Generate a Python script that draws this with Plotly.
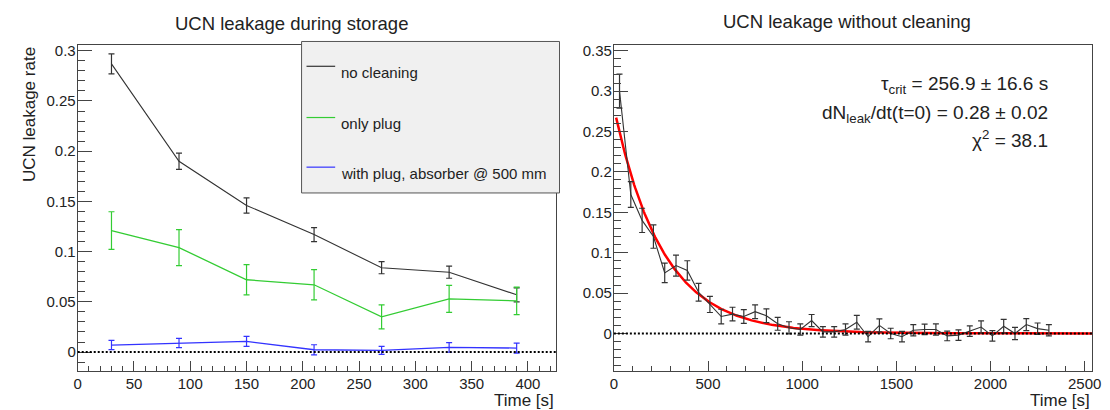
import numpy as np
import plotly.graph_objects as go

W, H = 1110, 410

# ---------------- data: left panel ----------------
t_left = [30, 90, 150, 210, 270, 330, 390]
no_clean = [0.287, 0.190, 0.146, 0.117, 0.084, 0.0795, 0.057]
no_clean_err = [0.010, 0.008, 0.0076, 0.007, 0.006, 0.006, 0.007]
only_plug = [0.121, 0.104, 0.072, 0.067, 0.035, 0.053, 0.051]
only_plug_err = [0.0187, 0.018, 0.015, 0.015, 0.012, 0.0135, 0.0137]
with_abs = [0.007, 0.009, 0.0106, 0.0023, 0.0017, 0.0046, 0.004]
with_abs_err = [0.0046, 0.0046, 0.005, 0.005, 0.004, 0.0048, 0.005]
legend_labels = ["no cleaning", "only plug", "with plug, absorber @ 500 mm"]

# ---------------- data: right panel ----------------
t_right = [30, 90, 150, 210, 270, 330, 390, 450, 510, 570, 630, 690, 750, 810,
           870, 930, 990, 1050, 1110, 1170, 1230, 1290, 1350, 1410, 1470, 1530,
           1590, 1650, 1710, 1770, 1830, 1890, 1950, 2010, 2070, 2130, 2190,
           2250, 2310]
leak = [0.300, 0.172, 0.140, 0.120, 0.075, 0.084, 0.078, 0.051, 0.036, 0.021,
        0.024, 0.021, 0.027, 0.022, 0.012, 0.007, 0.005, 0.016, 0.002, 0.002,
        0.005, 0.014, -0.004, 0.010, 0.000, -0.004, 0.004, 0.005, 0.005,
        -0.003, -0.002, 0.003, 0.008, -0.003, 0.009, 0.000, 0.011, 0.006,
        0.004]
leak_err = [0.021, 0.016, 0.015, 0.0145, 0.012, 0.013, 0.012, 0.011, 0.010,
            0.009, 0.0085, 0.0085, 0.0085, 0.0085, 0.008, 0.0075, 0.007,
            0.0075, 0.0065, 0.0065, 0.007, 0.0085, 0.0065, 0.008, 0.0065,
            0.0065, 0.007, 0.0065, 0.007, 0.006, 0.0065, 0.0065, 0.0075,
            0.0065, 0.0085, 0.0075, 0.0075, 0.007, 0.007]

# fit parameters (as printed on the chart)
FIT_TAU = 256.9
FIT_A = 0.28
FIT_START, FIT_END = 12, 2540

FONT = "Liberation Sans"
TXT = "#222222"
FRAME = "#444444"

fig = go.Figure()

def add_series(x, y, e, color, lw, xa, ya, cap):
    fig.add_trace(go.Scatter(
        x=x, y=y, mode="lines", xaxis=xa, yaxis=ya,
        line=dict(color=color, width=lw),
        error_y=dict(type="data", array=e, visible=True, color=color,
                     thickness=1.2, width=cap),
        showlegend=False, hoverinfo="skip"))

add_series(t_left, no_clean, no_clean_err, "#333333", 1.1, "x", "y", 3)
add_series(t_left, only_plug, only_plug_err, "#33cc33", 1.3, "x", "y", 3)
add_series(t_left, with_abs, with_abs_err, "#3333ff", 1.3, "x", "y", 3)

fit_t = np.linspace(FIT_START, FIT_END, 500)
fit_y = FIT_A * np.exp(-fit_t / FIT_TAU)
fig.add_trace(go.Scatter(x=fit_t, y=fit_y, mode="lines", xaxis="x2", yaxis="y2",
                         line=dict(color="#ff0000", width=2.5),
                         showlegend=False, hoverinfo="skip"))
add_series(t_right, leak, leak_err, "#333333", 1.1, "x2", "y2", 3)

ytop, ybot = 34.3, 362.3
ydom = [(H - ybot) / H, (H - ytop) / H]

def axis(dom, rng, dtick, mdtick, tlen, mlen, anchor, standoff):
    return dict(domain=dom, range=rng, anchor=anchor, showline=True, mirror=True,
                linecolor=FRAME, linewidth=1, ticks="inside", ticklen=tlen,
                tickwidth=1, tickcolor=FRAME, tick0=0, dtick=dtick,
                ticklabelstandoff=standoff,
                minor=dict(ticks="inside", ticklen=mlen, dtick=mdtick,
                           tickcolor=FRAME, tickwidth=1, tick0=0),
                showgrid=False, zeroline=False,
                tickfont=dict(family=FONT, size=15, color=TXT))

fig.update_layout(
    width=W, height=H, margin=dict(l=0, r=0, t=0, b=0),
    paper_bgcolor="white", plot_bgcolor="white",
    xaxis=axis([66.5 / W, 550.5 / W], [0, 425], 50, 10, 10, 5, "y", -1),
    yaxis=axis(ydom, [-0.0185, 0.3057], 0.05, 0.01, 14, 7, "x", -2),
    xaxis2=axis([609 / W, 1093 / W], [0, 2540], 500, 100, 10, 5, "y2", -1),
    yaxis2=axis(ydom, [-0.046, 0.357], 0.05, 0.01, 14, 7, "x2", -2),
    font=dict(family=FONT, color=TXT),
)

shapes = []
# dotted zero lines
for xr, yr in (("x domain", "y"), ("x2 domain", "y2")):
    shapes.append(dict(type="line", xref=xr, yref=yr, x0=0, x1=1, y0=0, y1=0,
                       line=dict(color="black", width=2, dash="2px,2px"),
                       layer="above"))

# legend box (left panel)
lx0, lx1, ly0, ly1 = 293, 554, 30.7, 183.3
shapes.append(dict(type="rect", xref="paper", yref="paper",
                   x0=lx0 / W, x1=lx1 / W, y0=(H - ly1) / H, y1=(H - ly0) / H,
                   fillcolor="#f0f0f0", line=dict(color="#555555", width=1),
                   layer="above"))
leg_colors = ["#333333", "#33cc33", "#3333ff"]
leg_y = [55.7, 107.3, 157.3]
annotations = []
for lab, col, yy in zip(legend_labels, leg_colors, leg_y):
    shapes.append(dict(type="line", xref="paper", yref="paper",
                       x0=298 / W, x1=327 / W, y0=(H - yy) / H, y1=(H - yy) / H,
                       line=dict(color=col, width=1.2), layer="above"))
    annotations.append(dict(text=lab, xref="paper", yref="paper",
                            x=331 / W, y=(H - yy - 6) / H, xanchor="left",
                            yanchor="middle", showarrow=False,
                            font=dict(family=FONT, size=15, color=TXT)))

def ann(text, x, y, size, xanchor="center", angle=0):
    annotations.append(dict(text=text, xref="paper", yref="paper", x=x / W,
                            y=(H - y) / H, xanchor=xanchor, yanchor="middle",
                            showarrow=False, textangle=angle,
                            font=dict(family=FONT, size=size, color=TXT)))

ann("UCN leakage during storage", 283, 12.5, 18.5)
ann("UCN leakage without cleaning", 845, 10.5, 18.5)
ann("UCN leakage rate", 17, 104, 17, angle=-90)
ann("Time [s]", 550.5, 392, 17, xanchor="right")
ann("Time [s]", 1093, 392, 17, xanchor="right")
ann("τ<sub>crit</sub> = 256.9 ± 16.6 s", 1050, 75, 19, xanchor="right")
ann("dN<sub>leak</sub>/dt(t=0) = 0.28 ± 0.02", 1050, 104, 19, xanchor="right")
ann("χ<sup>2</sup> = 38.1", 1050, 129, 19, xanchor="right")

fig.update_layout(shapes=shapes, annotations=annotations)
fig.write_html("out.html")
